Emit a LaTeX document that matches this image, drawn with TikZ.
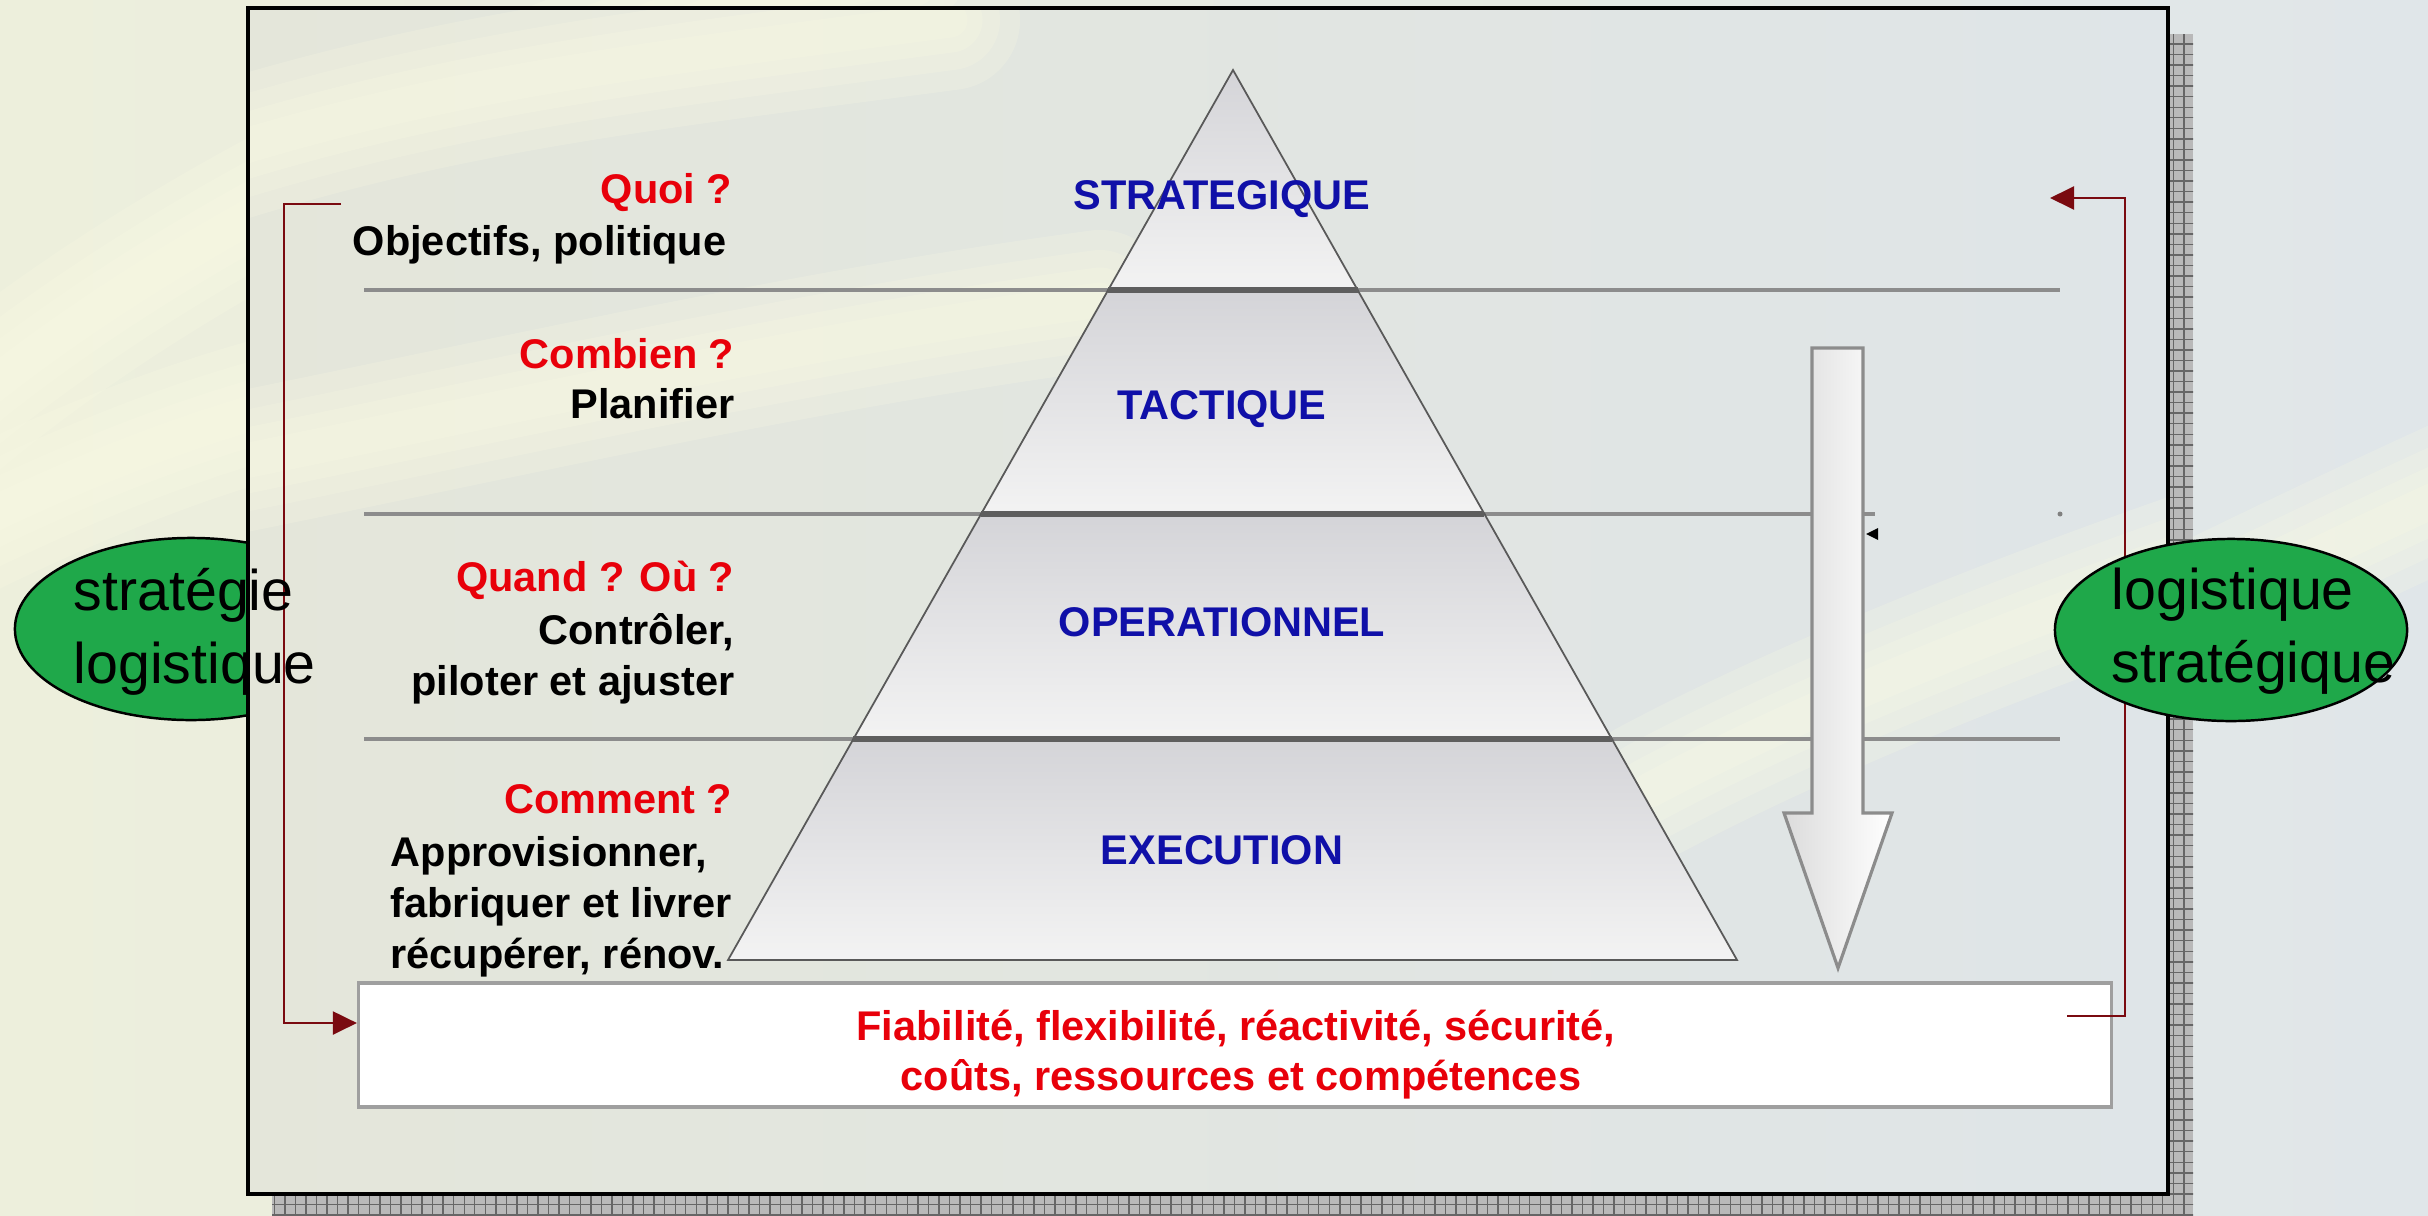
\documentclass[tikz,border=0pt]{standalone}
\usepackage{fontspec}
\setmainfont{Liberation Sans}
\usetikzlibrary{shapes.geometric,arrows.meta,patterns,calc}
\definecolor{bgL}{HTML}{EDEFDC}
\definecolor{bgR}{HTML}{E0E6E9}
\definecolor{frL}{HTML}{E4E6DA}
\definecolor{frR}{HTML}{DFE5E8}
\definecolor{glowc}{HTML}{FBFCE4}
\definecolor{sepc}{HTML}{8C8C8C}
\definecolor{sepd}{HTML}{5E5E5E}
\definecolor{pyrT}{HTML}{D4D4D8}
\definecolor{pyrB}{HTML}{F3F3F3}
\definecolor{brk}{HTML}{7A0A10}
\definecolor{qred}{HTML}{E8000A}
\definecolor{lvlblue}{HTML}{1010A8}
\definecolor{ellg}{HTML}{1FA84A}
\tikzset{
  glowline/.style={glowc, line cap=round, opacity=0.22},
  seprule/.style={sepc, line width=0.9pt},
  sepdark/.style={sepd, line width=1.5pt},
  band/.style={top color=pyrT, bottom color=pyrB, draw=gray!70!black, line width=0.5pt},
  lvl/.style={font=\fontsize{11.8}{14.5}\selectfont\bfseries, text=lvlblue, inner sep=0, anchor=base},
  qlab/.style={font=\fontsize{11.8}{14.5}\selectfont\bfseries, text=qred, inner sep=0, anchor=base east},
  blab/.style={font=\fontsize{11.8}{14.5}\selectfont\bfseries, text=black, inner sep=0, anchor=base east},
  blabl/.style={font=\fontsize{11.8}{14.5}\selectfont\bfseries, text=black, inner sep=0, anchor=base west},
  rlab/.style={font=\fontsize{11.8}{14.5}\selectfont\bfseries, text=qred, inner sep=0, anchor=base},
  bracket/.style={brk, line width=0.6pt},
  tip/.style={-{Triangle[length=0.24cm,width=0.23cm]}},
  greenell/.style={ellipse, draw=black, line width=0.7pt, fill=ellg, minimum width=3.52cm, minimum height=1.82cm, inner sep=0},
  elltxt/.style={font=\fontsize{16.3}{20.8}\selectfont, anchor=base west, inner sep=0},
}
\newcommand\glowpath[1]{\foreach \gw in {1.4,1.0,0.65,0.35}{\draw[glowline, line width=\gw cm] #1;}}
\begin{document}
\begin{tikzpicture}[x=0.01cm,y=-0.01cm]
\useasboundingbox (0,0) rectangle (2428,1215);
\clip (0,0) rectangle (2428,1215);
% background
\shade[left color=bgL, right color=bgR] (0,0) rectangle (2428,1215);
\glowpath{(-50,420) .. controls (150,250) and (500,60) .. (900,-40)}
\glowpath{(-60,540) .. controls (60,480) and (180,430) .. (300,400)}
\glowpath{(1900,760) .. controls (2100,660) and (2300,560) .. (2500,470)}
% left ellipse (behind frame)
\node[greenell] (lell) at (191,629) {};
% frame shadow and frame
\fill[gray!55] (272,34) rectangle (2193,1222);
\fill[pattern=grid, pattern color=black!60] (272,34) rectangle (2193,1222);
\shade[left color=frL, right color=frR] (248,8) rectangle (2168,1194);
\begin{scope}
  \clip (248,8) rectangle (2168,1194);
  \glowpath{(200,160) .. controls (450,80) and (650,60) .. (950,20)}
  \glowpath{(200,470) .. controls (500,410) and (800,340) .. (1100,300)}
  \glowpath{(1650,790) .. controls (1800,710) and (2000,630) .. (2200,560)}
\end{scope}
\draw[black, line width=0.9pt] (248,8) rectangle (2168,1194);
% separators
\draw[seprule] (364,290) -- (2060,290);
\draw[seprule] (364,514) -- (1875,514);
\draw[seprule] (364,739) -- (2060,739);
\fill[gray] (2060,514) circle (2.5);
% pyramid
\coordinate (apex) at (1233,70);
\coordinate (bl) at (728,960);
\coordinate (br) at (1737,960);
\coordinate (l1) at ($(apex)!0.2472!(bl)$);
\coordinate (r1) at ($(apex)!0.2472!(br)$);
\coordinate (l2) at ($(apex)!0.4989!(bl)$);
\coordinate (r2) at ($(apex)!0.4989!(br)$);
\coordinate (l3) at ($(apex)!0.7517!(bl)$);
\coordinate (r3) at ($(apex)!0.7517!(br)$);
\path[band] (apex) -- (r1) -- (l1) -- cycle;
\path[band] (l1) -- (r1) -- (r2) -- (l2) -- cycle;
\path[band] (l2) -- (r2) -- (r3) -- (l3) -- cycle;
\path[band] (l3) -- (r3) -- (br) -- (bl) -- cycle;
\draw[sepdark] (l1) -- (r1);
\draw[sepdark] (l2) -- (r2);
\draw[sepdark] (l3) -- (r3);
% big down arrow
\path[draw=sepc, line width=0.9pt, left color=gray!28, right color=white]
  (1812,348) -- (1863,348) -- (1863,813) -- (1892,813) -- (1838,968) -- (1784,813) -- (1812,813) -- cycle;
\fill[black] (1866,534) -- (1878,528) -- (1878,540) -- cycle;
% bottom box
\node[draw=gray!75, line width=0.9pt, fill=white, minimum width=17.52cm, minimum height=1.24cm, inner sep=0] (box) at (1235,1045) {};
% brackets
\coordinate (ltop) at (341,204);
\coordinate (lin) at (0,1023);
\draw[bracket, tip] (ltop) -- (284,204) -- (284,1023) -- (box.west |- lin);
\coordinate (rfrom) at (2067,1016);
\coordinate (rto) at (2050,198);
\draw[bracket, tip] (rfrom) -- (2125,1016) -- (2125,198) -- (rto);
% right ellipse
\node[greenell] (rell) at (2231,630) {};
% ellipse texts
\node[elltxt] (lt1) at (73,610) {stratégie};
\node[elltxt] (lt2) at (73,683) {logistique};
\node[elltxt] (rt1) at (2111,609) {logistique};
\node[elltxt] (rt2) at (2111,682) {stratégique};
% level labels
\node[lvl] (tstrat) at (1222,209) {STRATEGIQUE};
\node[lvl] (ttact) at (1222,419) {TACTIQUE};
\node[lvl] (toper) at (1222,636) {OPERATIONNEL};
\node[lvl] (texec) at (1222,864) {EXECUTION};
% left questions
\node[qlab] (quoi) at (733,203) {Quoi ?};
\node[blab] (obj) at (727,255) {Objectifs, politique};
\node[qlab] (comb) at (735,368) {Combien ?};
\node[blab] (plan) at (735,418) {Planifier};
\node[qlab] (quand) at (735,591) {Quand ? Où ?};
\node[blab] (ctrl) at (735,644) {Contrôler,};
\node[blab] (pilot) at (735,695) {piloter et ajuster};
\node[qlab] (comm) at (733,813) {Comment ?};
\node[blabl] (appro) at (390,866) {Approvisionner,};
\node[blabl] (fabr) at (390,917) {fabriquer et livrer};
\node[blabl] (recup) at (390,968) {récupérer, rénov.};
% bottom text
\node[rlab] (fiab) at (1236,1040) {Fiabilité, flexibilité, réactivité, sécurité,};
\node[rlab] (couts) at (1241,1090) {coûts, ressources et compétences};
\end{tikzpicture}
\end{document}
